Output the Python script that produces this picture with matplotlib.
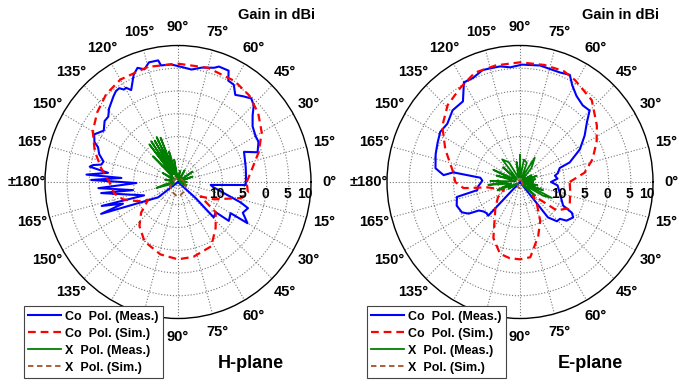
import numpy as np
import matplotlib
matplotlib.use('Agg')
import matplotlib.pyplot as plt

plt.rcParams['font.family'] = ['Liberation Sans', 'DejaVu Sans']
plt.rcParams['font.weight'] = 'bold'

# ---- H-plane data (angle in degrees, gain in dBi) ----
h_co_meas_ang = [-48, -41.6, -44, -38, -36.7, -30, -30, -24.8, -20, -17.6, -8, -5, -2.5, 0, 5, 11.6,
                 24, 20, 26, 30, 36, 41, 44.6, 48, 52, 56, 59.5, 63, 65, 70, 72, 78, 83, 87, 93.5,
                 98.5, 99.5, 104, 107, 110, 113, 117.6, 119.5, 121, 122.7, 125, 127.7, 134, 137.6,
                 141, 146, 151, 155, 157, 161, 165, 167.5, 169, 170.4, 172.7, 175.5, 176, 178.7,
                 181.4, 184.3, 190, 188, 201, 197, 201, 202, 217, 222]
h_co_meas_val = [-20, -14.6, -8.8, -9.2, -5.7, -6.3, -1.9, -3.9, -3.2, -5.2, -12, -12.6, -4.7, -4.7, -4.6, -4.4,
                 -3.7, -0.9, 0.2, 0.2, 0.8, 2.3, 4.0, 4.7, 3.9, 3.1, 4.8, 5.0, 7.0, 7.0, 6.4, 5.7, 4.9, 5.2, 5.9,
                 5.9, 7.1, 7.1, 5.9, 6.7, 5.6, 2.8, 3.8, 3.7, 4.5, 4.4, 3.8, 2.4, 1.3,
                 1.3, 0.2, 1.6, 0.8, -0.4, -1.2, -2.6, -2.3, -0.5, 0.2, -4.1, 0.7, -7.2, -0.4,
                 -10.6, -2.0, -9.7, -2.5, -11.8, -2.0, -6.7, -1.3, -14.4, -20]

h_co_sim_ang = [0, 10, 20, 30, 40, 50, 60, 75, 90, 105, 120, 130, 140, 150, 160, 170, 180, 190, 197,
                205, 210, 219, 228, 240, 256, 270, 282, 298, 310, 322, 328, 335, 346, 352, 360]
h_co_sim_val = [-4.5, -3.0, -0.6, 1.8, 3.6, 4.9, 5.6, 6.0, 6.0, 6.2, 6.0, 5.2, 3.8, 2.2, 0.0, -2.4, -4.5, -5.4, -7.0,
                -10.0, -12.2, -9.3, -7.0, -4.9, -3.6, -3.0, -3.2, -4.0, -6.8, -9.2, -14.0, -11.0, -5.4, -4.1, -4.5]

h_x_meas_ang = [-30, -20, -10, 0, 10, 20, 25, 35, 45, 60, 70, 80, 90, 100, 104, 107, 110, 112, 114, 116, 118,
                120, 122, 124, 126, 128, 130, 135, 140, 150, 160, 170, 180, 190, 195, 200, 210]
h_x_meas_val = [-19, -18, -19.5, -18, -19.5, -16.5, -19.5, -16, -19.5, -17, -19.5, -17.5, -19.5, -15, -19, -13, -19,
                -9.5, -18, -9, -17, -9.5, -18, -9.2, -17, -9.5, -18, -12, -19, -16, -19, -17, -19, -17, -15, -19, -18]

h_x_sim_ang = [0, 30, 60, 90, 120, 150, 180, 210, 240, 260, 270, 280, 300, 330, 360]
h_x_sim_val = [-18.5, -19, -19.2, -19, -19.2, -19, -18.5, -18, -17.5, -17, -17.2, -17, -17.5, -18, -18.5]

# ---- E-plane data ----
e_co_meas_ang = [-55, -51, -46, -42, -39, -33, -30, -28, -14, -5, 0, 5, 10, 13, 17, 19, 21, 28, 35, 41, 45, 50,
                 56, 61, 64.5, 69.5, 80, 89, 95, 100, 106, 109, 115, 120, 126, 134, 142, 148.5, 155, 162, 171,
                 175, 172, 174, 178, 186, 190.5, 193, 200, 207, 211, 214, 218, 222, 226, 228]
e_co_meas_val = [-20, -10, -8, -7.9, -6.5, -5.7, -6.5, -9, -10.8, -11.5, -13, -11.5, -12, -11.2, -10.8, -10.5, -8,
                 -4.7, -2.2, 0, 2.2, 2.0, 2.8, 4.3, 6.1, 5.7, 6.0, 5.8, 5.3, 5.8, 5.9, 6.0, 5.2, 5.3, 1.9, 1.9,
                 0.8, 1.1, 0.5, 0, -0.7, -2.7, -4.8, -11, -11.5, -10.5, -10.2, -5.4, -4.8, -5.3, -6.5, -8.8,
                 -9.5, -9.8, -9.7, -20]

e_co_sim_ang = [0, 8, 17, 27, 35.5, 48, 61, 68, 78, 90, 102, 113, 123, 134, 145, 157, 172, 180, 186, 187, 189,
                205, 214, 226, 234, 244, 254, 262, 270, 278, 289, 298, 309, 315, 323, 332, 337, 350, 360]
e_co_sim_val = [-8.8, -5.3, -2.9, -0.6, 1.3, 4.2, 5.6, 6.3, 6.3, 6.3, 6.2, 6.1, 4.7, 3.5, 1.4, -1.7, -4.8, -5.4,
                -7.2, -9.4, -12.5, -16, -14, -12, -10.3, -6.3, -3.6, -3.1, -3.0, -3.3, -7.4, -10.3, -14, -16,
                -9.6, -7.7, -7.8, -8.5, -8.8]

e_x_meas_ang = [-50, -41, -35, -30, -26, -22, -19, -15, -10, -5, 0, 5, 10, 15, 20, 25, 30, 40, 50, 58, 65, 70,
                80, 85, 90, 95, 100, 110, 120, 129, 135, 140, 150, 156, 160, 165, 172, 178, 182, 185, 190,
                196, 200, 205, 210, 220]
e_x_meas_val = [-19, -15.5, -19, -14, -12, -18, -14.5, -19, -16, -19.5, -17, -19.5, -16.5, -19.5, -16, -19.5,
                -17, -19.5, -16, -13.7, -19, -15.5, -15, -19, -14, -19, -15.5, -19, -15, -13.6, -19, -15,
                -19, -13.4, -18, -14.5, -19, -13.3, -17, -12.8, -18, -16, -14.6, -19, -17, -19.5]

e_x_sim_ang = [0, 45, 90, 135, 180, 225, 250, 270, 290, 315, 360]
e_x_sim_val = [-19.5, -19.6, -19.5, -19.6, -19.5, -19.2, -18.8, -18.6, -18.8, -19.2, -19.5]

legend_labels = ['Co  Pol. (Meas.)', 'Co  Pol. (Sim.)', 'X  Pol. (Meas.)', 'X  Pol. (Sim.)']

RMIN, RMAX = -20, 10


def draw_panel(rect, series, plane, legend_x, title_x, gain_x):
    ax = fig.add_axes(rect, projection='polar')
    ax.set_aspect('auto')
    styles = [dict(color='#0000ff', ls='-', lw=1.5),
              dict(color='#ff0000', ls=(0, (3.5, 2.2)), lw=1.6),
              dict(color='#007f00', ls='-', lw=1.3),
              dict(color='#a5522a', ls=(0, (3, 2)), lw=1.3)]
    handles = []
    for (ang, val), st, lab in zip(series, styles, legend_labels):
        th = np.radians(np.array(ang, dtype=float))
        r = np.clip(np.array(val, dtype=float), RMIN, RMAX)
        h, = ax.plot(th, r, label=lab, **st)
        handles.append(h)
    ax.set_rlim(RMIN, RMAX)
    ax.set_xticks(np.radians(np.arange(0, 360, 15)))
    ax.set_xticklabels([])
    ax.set_yticks([-15, -10, -5, 0, 5])
    ax.set_yticklabels([])
    ax.grid(True, ls=':', color='#777777', lw=0.8)
    ax.spines['polar'].set_color('black')
    ax.spines['polar'].set_linewidth(1.0)

    # angle labels (120 and 105 in the lower half sit under the legend)
    for a in range(0, 360, 15):
        if a in (240, 255):
            continue
        if a == 180:
            txt = '\u00b1180\u00b0'
        elif a < 180:
            txt = '%d\u00b0' % a
        else:
            txt = '%d\u00b0' % (360 - a)
        ax.text(np.radians(a), 14.1, txt, ha='center', va='center',
                fontsize=10.5, fontweight='bold', clip_on=False, zorder=3)
    # radial labels
    for rv, txt in zip([-10, -5, 0, 5, 10], ['10', '5', '0', '5', '10']):
        ax.annotate(txt, xy=(0, rv), xytext=(1.5, -9), textcoords='offset points',
                    ha='right', va='center', fontsize=10, fontweight='bold')

    fig.text(gain_x, 1 - 15 / 380, 'Gain in dBi', ha='center', va='center',
             fontsize=10.5, fontweight='bold')
    fig.text(title_x, 1 - 363 / 380, plane, ha='center', va='center',
             fontsize=13, fontweight='bold')
    leg = ax.legend(handles=handles, loc='lower left',
                    bbox_to_anchor=(legend_x, 2 / 380), bbox_transform=fig.transFigure,
                    prop={'size': 9, 'weight': 'bold'}, frameon=True, fancybox=False,
                    framealpha=1, edgecolor='#444444', borderaxespad=0, borderpad=0.35,
                    handlelength=2.6, handletextpad=0.3, labelspacing=0.4)
    leg.get_frame().set_linewidth(0.8)
    leg.set_zorder(20)
    return ax


fig = plt.figure(figsize=(6.78, 3.80), dpi=100)

w, hgt = 266 / 678, 273 / 380
draw_panel([178 / 678 - w / 2, 1 - 182 / 380 - hgt / 2, w, hgt],
           [(h_co_meas_ang, h_co_meas_val), (h_co_sim_ang, h_co_sim_val),
            (h_x_meas_ang, h_x_meas_val), (h_x_sim_ang, h_x_sim_val)],
           'H-plane', 24 / 678, 251 / 678, 277 / 678)
draw_panel([520 / 678 - w / 2, 1 - 182 / 380 - hgt / 2, w, hgt],
           [(e_co_meas_ang, e_co_meas_val), (e_co_sim_ang, e_co_sim_val),
            (e_x_meas_ang, e_x_meas_val), (e_x_sim_ang, e_x_sim_val)],
           'E-plane', 367 / 678, 590 / 678, 620 / 678)

fig.savefig('out.png', dpi=100)
